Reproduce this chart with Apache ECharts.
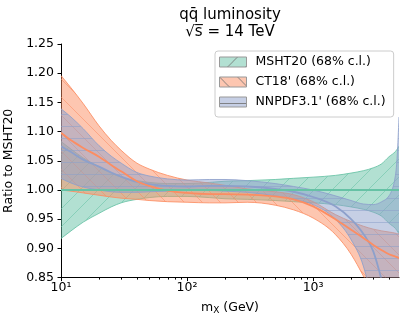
<!DOCTYPE html>
<html>
<head>
<meta charset="utf-8">
<script src="https://cdn.jsdelivr.net/npm/echarts@6.0.0/dist/echarts.min.js"></script>
<style>
  html, body { margin: 0; padding: 0; background: #fff; }
  #chart { width: 407px; height: 324px; }
</style>
</head>
<body>
<div id="chart"></div>
<script>
  // m_X (GeV) sample points, shared by every band
  const mass = [10, 12, 15, 20, 25, 30, 40, 50, 70, 100, 150, 200, 300, 500, 700, 1000, 1500, 2000, 2500, 3000, 3500, 4000, 4500, 4650, 4800];

  // MSHT20 (ratio to itself)
  const mshtLo = [0.917, 0.930, 0.945, 0.960, 0.971, 0.978, 0.984, 0.987, 0.989, 0.989, 0.987, 0.985, 0.984, 0.982, 0.980, 0.978, 0.975, 0.971, 0.967, 0.962, 0.955, 0.943, 0.934, 0.930, 0.925];
  const mshtHi = [1.083, 1.070, 1.055, 1.040, 1.029, 1.022, 1.016, 1.013, 1.011, 1.011, 1.013, 1.015, 1.016, 1.018, 1.020, 1.022, 1.025, 1.029, 1.033, 1.038, 1.045, 1.057, 1.066, 1.070, 1.075];
  const mshtMid = [1, 1, 1, 1, 1, 1, 1, 1, 1, 1, 1, 1, 1, 1, 1, 1, 1, 1, 1, 1, 1, 1, 1, 1, 1];

  // CT18'
  const ctLo = [1.000, 0.998, 0.995, 0.991, 0.988, 0.986, 0.984, 0.982, 0.980, 0.979, 0.978, 0.978, 0.979, 0.974, 0.966, 0.952, 0.924, 0.890, 0.853, 0.820, 0.790, 0.770, 0.750, 0.745, 0.740];
  const ctHi = [1.196, 1.175, 1.148, 1.110, 1.085, 1.068, 1.046, 1.036, 1.025, 1.017, 1.012, 1.008, 1.002, 0.997, 0.992, 0.980, 0.958, 0.946, 0.938, 0.933, 0.930, 0.928, 0.926, 0.925, 0.925];
  const ctMid = [1.098, 1.085, 1.072, 1.057, 1.043, 1.032, 1.015, 1.007, 0.999, 0.995, 0.993, 0.993, 0.992, 0.989, 0.984, 0.972, 0.950, 0.932, 0.918, 0.906, 0.897, 0.890, 0.886, 0.885, 0.883];

  // NNPDF3.1'
  const nnLo = [1.020, 1.012, 1.005, 1.000, 0.997, 0.996, 0.996, 0.997, 0.998, 0.999, 0.999, 0.998, 0.996, 0.990, 0.984, 0.975, 0.950, 0.915, 0.870, 0.800, 0.720, 0.640, 0.560, 0.540, 0.520];
  const nnHi = [1.139, 1.125, 1.105, 1.076, 1.058, 1.046, 1.030, 1.024, 1.019, 1.017, 1.018, 1.018, 1.016, 1.011, 1.006, 1.000, 0.990, 0.982, 0.976, 0.975, 0.980, 0.990, 1.025, 1.060, 1.125];
  const nnMid = [1.075, 1.065, 1.052, 1.040, 1.030, 1.023, 1.014, 1.010, 1.007, 1.006, 1.007, 1.007, 1.006, 1.002, 0.997, 0.988, 0.972, 0.950, 0.925, 0.895, 0.845, 0.790, 0.730, 0.710, 0.690];

  // axis ticks
  const majorTicks = [10, 100, 1000];
  const minorTicks = [20, 30, 40, 50, 60, 70, 80, 90, 200, 300, 400, 500, 600, 700, 800, 900, 2000, 3000, 4000];
  const xMin = 10, xMax = 4800;
  const yMin = 0.85, yMax = 1.25, yStep = 0.05;

  const names = ['MSHT20 (68% c.l.)', "CT18' (68% c.l.)", "NNPDF3.1' (68% c.l.)"];
  const GREEN = '102,194,165', ORANGE = '252,141,98', BLUE = '141,160,203';
  const FONT = 'DejaVu Sans';

  // hatched fill like matplotlib's fill_between(hatch=...)
  function hatch(rgb, kind, lineRgb, lineA) {
    const s = kind === '-' ? 12 : 18;
    const c = document.createElement('canvas');
    c.width = s; c.height = s;
    const g = c.getContext('2d');
    g.fillStyle = 'rgba(' + rgb + ',0.5)';
    g.fillRect(0, 0, s, s);
    g.strokeStyle = 'rgba(' + lineRgb + ',' + lineA + ')';
    g.lineWidth = 1;
    g.beginPath();
    if (kind === '/') {
      g.moveTo(-1, s + 1); g.lineTo(s + 1, -1);
      g.moveTo(-1, 1); g.lineTo(1, -1);
      g.moveTo(s - 1, s + 1); g.lineTo(s + 1, s - 1);
    } else if (kind === '\\') {
      g.moveTo(-1, -1); g.lineTo(s + 1, s + 1);
      g.moveTo(s - 1, -1); g.lineTo(s + 1, 1);
      g.moveTo(-1, s - 1); g.lineTo(1, s + 1);
    } else {
      g.moveTo(0, 6.5); g.lineTo(s, 6.5);
    }
    g.stroke();
    return { image: c, repeat: 'repeat' };
  }

  // monotone cubic (pixel space) so curves don't overshoot
  function slopes(p) {
    const n = p.length, h = [], s = [], t = [];
    for (let i = 0; i < n - 1; i++) {
      h[i] = p[i + 1][0] - p[i][0];
      s[i] = (p[i + 1][1] - p[i][1]) / h[i];
    }
    for (let i = 1; i < n - 1; i++) {
      const q = (s[i - 1] * h[i] + s[i] * h[i - 1]) / (h[i - 1] + h[i]);
      t[i] = (Math.sign(s[i - 1]) + Math.sign(s[i])) * Math.min(Math.abs(s[i - 1]), Math.abs(s[i]), 0.5 * Math.abs(q)) || 0;
    }
    t[0] = (3 * s[0] - t[1]) / 2;
    t[n - 1] = (3 * s[n - 2] - t[n - 2]) / 2;
    return t;
  }
  function curve(p, t) {
    let d = '';
    for (let i = 0; i < p.length - 1; i++) {
      const a = p[i], b = p[i + 1], dx = (b[0] - a[0]) / 3;
      d += ' C' + (a[0] + dx) + ',' + (a[1] + dx * t[i]) + ' ' + (b[0] - dx) + ',' + (b[1] - dx * t[i + 1]) + ' ' + b[0] + ',' + b[1];
    }
    return d;
  }
  function linePath(p) {
    return 'M' + p[0][0] + ',' + p[0][1] + curve(p, slopes(p));
  }
  function areaPath(top, bot) {
    const rb = bot.slice().reverse(), rt = slopes(bot).reverse();
    const last = rb[0];
    return linePath(top) + ' L' + last[0] + ',' + last[1] + curve(rb, rt) + ' Z';
  }

  function band(name, lo, hi, rgb, kind) {
    return {
      type: 'custom', name: name, silent: true, clip: true, z: 2,
      data: mass.map((m, i) => [m, lo[i], hi[i]]),
      encode: { x: 0, y: [1, 2] },
      renderItem: (params, api) => {
        if (params.dataIndex !== 0) return null;
        const top = mass.map((m, i) => api.coord([m, hi[i]]));
        const bot = mass.map((m, i) => api.coord([m, lo[i]]));
        const edge = { stroke: 'rgba(' + rgb + ',0.85)', lineWidth: 1, fill: null };
        return {
          type: 'group',
          children: [
            { type: 'path', shape: { pathData: areaPath(top, bot) }, style: { fill: hatch(rgb, kind, rgb, 0.55), stroke: null } },
            { type: 'path', shape: { pathData: linePath(top) }, style: edge },
            { type: 'path', shape: { pathData: linePath(bot) }, style: edge }
          ]
        };
      }
    };
  }

  function centre(vals, rgb) {
    return {
      type: 'custom', silent: true, clip: true, z: 3,
      data: mass.map((m, i) => [m, vals[i]]),
      encode: { x: 0, y: 1 },
      renderItem: (params, api) => {
        if (params.dataIndex !== 0) return null;
        const pts = mass.map((m, i) => api.coord([m, vals[i]]));
        return { type: 'path', shape: { pathData: linePath(pts) }, style: { stroke: 'rgb(' + rgb + ')', lineWidth: 1.8, fill: null } };
      }
    };
  }

  function ticks(list, len) {
    return {
      type: 'custom', silent: true, clip: false, z: 5,
      data: list.map(m => [m, yMin]),
      encode: { x: 0, y: 1 },
      renderItem: (params, api) => {
        const p = api.coord([api.value(0), api.value(1)]);
        const x = Math.round(p[0]) + 0.5;
        return { type: 'line', shape: { x1: x, y1: p[1], x2: x, y2: p[1] + len }, style: { stroke: '#000', lineWidth: 1 } };
      }
    };
  }

  const sup = ['⁰', '¹', '²', '³', '⁴'];

  const chart = echarts.init(document.getElementById('chart'));
  chart.setOption({
    animation: false,
    backgroundColor: '#fff',
    graphic: [{
      type: 'text', x: 230, y: 7,
      style: {
        text: 'qq\u0304 luminosity\n\u221As\u0305 = 14 TeV',
        align: 'center', verticalAlign: 'top',
        fontSize: 15, lineHeight: 17, fontFamily: FONT, fill: '#000'
      }
    }],
    legend: {
      orient: 'vertical', left: 215, top: 51,
      padding: [4, 8, 8, 4], itemGap: 6, itemWidth: 27, itemHeight: 10,
      selectedMode: false,
      backgroundColor: 'rgba(255,255,255,0.8)',
      borderColor: '#cccccc', borderWidth: 1, borderRadius: 3,
      textStyle: { fontSize: 12.5, lineHeight: 14, fontFamily: FONT, color: '#000', padding: [0, 0, 0, 4] },
      data: [
        { name: names[0], icon: 'rect', itemStyle: { color: hatch(GREEN, '/', '110,110,110', 0.8), borderColor: '#999', borderWidth: 1 } },
        { name: names[1], icon: 'rect', itemStyle: { color: hatch(ORANGE, '\\', '110,110,110', 0.8), borderColor: '#999', borderWidth: 1 } },
        { name: names[2], icon: 'rect', itemStyle: { color: hatch(BLUE, '-', '110,110,110', 0.8), borderColor: '#999', borderWidth: 1 } }
      ]
    },
    grid: { left: 61, right: 8, top: 44, bottom: 46.4, containLabel: false, outerBoundsMode: 'none' },
    xAxis: {
      type: 'log', logBase: 10, min: xMin, max: xMax,
      name: 'm{s|X} (GeV)', nameLocation: 'middle', nameGap: 22,
      nameTextStyle: {
        color: '#000', fontFamily: FONT, fontSize: 12.5, lineHeight: 16,
        rich: { s: { fontSize: 9, fontFamily: FONT, color: '#000', lineHeight: 10, verticalAlign: 'bottom' } }
      },
      axisLine: { show: true, lineStyle: { color: '#000', width: 1 } },
      axisTick: { show: false },
      splitLine: { show: false },
      minorTick: { show: false },
      axisLabel: {
        margin: 4, color: '#000', fontFamily: FONT, fontSize: 12.5,
        formatter: v => {
          const e = Math.round(Math.log10(v));
          return Math.abs(Math.pow(10, e) - v) < 1e-6 * v ? '10' + sup[e] : '';
        }
      }
    },
    yAxis: {
      type: 'value', min: yMin, max: yMax, interval: yStep,
      name: 'Ratio to MSHT20', nameLocation: 'middle', nameGap: 35,
      nameTextStyle: { color: '#000', fontFamily: FONT, fontSize: 12.5 },
      axisLine: { show: true, lineStyle: { color: '#000', width: 1 } },
      axisTick: { show: true, length: 3.5, lineStyle: { color: '#000' } },
      splitLine: { show: false },
      axisLabel: { margin: 7, color: '#000', fontFamily: FONT, fontSize: 12.5, formatter: v => v.toFixed(2) }
    },
    series: [
      band(names[0], mshtLo, mshtHi, GREEN, '/'),
      band(names[1], ctLo, ctHi, ORANGE, '\\'),
      band(names[2], nnLo, nnHi, BLUE, '-'),
      centre(nnMid, BLUE),
      centre(ctMid, ORANGE),
      centre(mshtMid, GREEN),
      ticks(majorTicks, 3.5),
      ticks(minorTicks, 2)
    ]
  });
</script>
</body>
</html>
